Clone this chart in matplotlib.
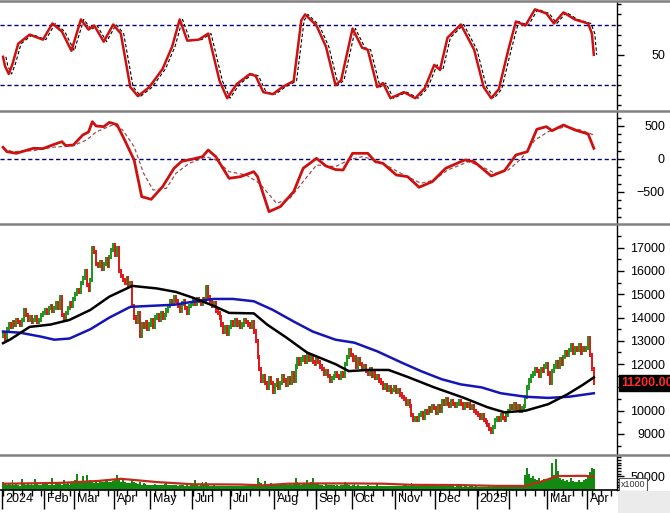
import matplotlib
matplotlib.use('Agg')
import matplotlib.pyplot as plt
import matplotlib.transforms as mtransforms
from matplotlib.lines import Line2D
from matplotlib.patches import Rectangle
from matplotlib.ticker import MultipleLocator, FixedLocator, NullFormatter
import numpy as np

plt.rcParams['font.family'] = ['Liberation Sans', 'DejaVu Sans']

# ---- data ----
month_labels = ['2024', 'Feb', 'Mar', 'Apr', 'May', 'Jun', 'Jul', 'Aug', 'Sep',
                'Oct', 'Nov', 'Dec', '2025', '', 'Mar', 'Apr']

# daily closes, one list per month (trading days)
close_by_month = [
    [13300, 13100, 13500, 13700, 13600, 13800, 13700, 13900, 13800, 13700, 13900,
     14300, 14100, 13900, 14000, 13800, 13900, 14000, 13800, 13900, 14100, 14200],
    [14300, 14200, 14400, 14500, 14300, 14400, 14600, 14400, 14900, 14100, 13900,
     14200, 14400, 14600, 14500, 14800],
    [15000, 15200, 15100, 15500, 15700, 16000, 15400, 15200, 15600, 17000, 16800,
     16300, 16200, 16400, 16100, 16300, 16500, 16200, 16600, 16900, 17100],
    [16700, 17000, 16000, 15800, 15600, 15500, 15700, 15400, 15500, 14500, 14000,
     13800, 14200, 13200, 13700, 13600, 13800, 13500, 13700],
    [13900, 13600, 14000, 14100, 13900, 14200, 14000, 14100, 14300, 14500, 14700,
     14600, 14900, 14700, 14500, 14300, 14600, 14700, 14400, 14200, 14500, 14600],
    [14700, 14600, 14800, 14700, 14600, 14800, 14700, 15300, 14900, 14700, 14500,
     14600, 14300, 14200, 14000, 13700, 13400, 13600, 13300, 13600],
    [13800, 13700, 13900, 13700, 13800, 13600, 13700, 13900, 13800, 13700, 13600,
     13800, 13400, 13000, 12300, 11800, 11300, 11500, 11200, 11000, 11400, 11200, 10800],
    [11100, 11300, 11000, 11200, 11500, 11300, 11100, 11400, 11200, 11600, 11300,
     11900, 12200, 12000, 12200, 12300, 12100, 12400, 12200, 12300, 12100, 12000],
    [12200, 12100, 11900, 11800, 11600, 11700, 11500, 11300, 11400, 11500, 11600,
     11500, 11400, 11600, 11500, 12000, 12300, 12600, 12400],
    [12200, 12300, 11900, 12200, 12000, 11800, 11900, 11700, 11600, 11800, 11500,
     11600, 11400, 11500, 11300, 11200, 11000, 11100, 10900, 11000, 10800, 10900, 11000],
    [10800, 10900, 10700, 10600, 10500, 10300, 10400, 10200, 9800, 9600, 9700,
     9600, 9800, 9900, 9700, 10000, 9900, 10100, 10000, 10200, 10100],
    [9900, 10200, 10000, 10400, 10300, 10500, 10300, 10200, 10400, 10300, 10200,
     10300, 10400, 10300, 10100, 10300, 10200, 10300, 10100, 10200, 10000, 9900],
    [9800, 9700, 9800, 9600, 9500, 9400, 9200, 9100, 9300, 9600, 9700,
     9600, 9800, 9700, 9600, 9800, 10000],
    [10200, 10100, 10300, 10100, 10200, 10000, 10100, 10200, 10600, 11000, 11300,
     11500, 11600, 11800, 11700, 11500, 11800, 11700, 11900, 12000],
    [11600, 11200, 11700, 11900, 12100, 11900, 12200, 12000, 12300, 12500, 12400,
     12600, 12800, 12500, 12700, 12600, 12800, 12500, 12700, 12600, 12700],
    [13100, 12400, 11800, 11200],
]
first_open = 13200

# daily volume (x1000), one list per month
volume_by_month = [
    [28000, 22000, 18000, 25000, 20000, 35000, 18000, 22000, 20000, 16000, 40000,
     22000, 19000, 25000, 18000, 21000, 20000, 42000, 23000, 18000, 20000, 24000],
    [22000, 26000, 20000, 18000, 45000, 20000, 22000, 30000, 24000, 19000, 38000,
     22000, 26000, 20000, 30000, 28000],
    [35000, 60000, 30000, 28000, 50000, 32000, 55000, 30000, 35000, 28000, 26000,
     30000, 25000, 32000, 28000, 30000, 34000, 40000, 30000, 28000, 32000],
    [35000, 55000, 45000, 30000, 38000, 28000, 25000, 27000, 24000, 40000, 30000,
     25000, 22000, 28000, 20000, 24000, 22000, 20000, 18000],
    [20000, 18000, 22000, 19000, 17000, 20000, 18000, 22000, 25000, 20000, 18000,
     19000, 17000, 20000, 16000, 18000, 19000, 17000, 15000, 18000, 16000, 17000],
    [18000, 38000, 20000, 16000, 17000, 28000, 22000, 30000, 18000, 16000, 15000,
     17000, 16000, 14000, 15000, 16000, 13000, 15000, 14000, 16000],
    [15000, 14000, 16000, 13000, 15000, 14000, 16000, 15000, 14000, 13000, 15000,
     14000, 16000, 20000, 45000, 30000, 25000, 18000, 32000, 22000, 20000, 24000, 18000],
    [20000, 22000, 19000, 18000, 24000, 20000, 21000, 19000, 22000, 20000, 25000,
     45000, 28000, 22000, 20000, 24000, 22000, 35000, 25000, 30000, 45000, 24000],
    [22000, 25000, 20000, 18000, 16000, 22000, 19000, 17000, 18000, 20000, 16000,
     18000, 15000, 17000, 20000, 30000, 22000, 18000, 16000],
    [18000, 22000, 16000, 18000, 15000, 14000, 16000, 15000, 17000, 14000, 15000,
     16000, 14000, 26000, 15000, 16000, 14000, 15000, 13000, 15000, 14000, 16000, 15000],
    [14000, 15000, 16000, 14000, 17000, 18000, 16000, 15000, 24000, 18000, 15000,
     14000, 16000, 15000, 13000, 18000, 15000, 14000, 16000, 15000, 14000],
    [13000, 15000, 14000, 22000, 16000, 14000, 15000, 13000, 14000, 15000, 12000,
     14000, 13000, 15000, 12000, 14000, 13000, 12000, 14000, 13000, 12000, 13000],
    [11000, 12000, 10000, 11000, 12000, 10000, 13000, 12000, 11000, 10000, 12000,
     18000, 11000, 10000, 17000, 11000, 16000],
    [12000, 15000, 10000, 12000, 14000, 11000, 13000, 12000, 55000, 80000, 60000,
     45000, 50000, 40000, 35000, 45000, 30000, 38000, 42000, 32000],
    [35000, 45000, 100000, 55000, 115000, 70000, 45000, 38000, 40000, 32000, 35000,
     30000, 45000, 32000, 28000, 30000, 35000, 30000, 28000, 35000, 40000],
    [55000, 65000, 80000, 75000],
]

# moving averages on the price panel (sampled along the chart)
ma_short_days = [0, 4, 14, 25, 35, 46, 56, 68, 81, 91, 100, 111, 119, 132, 139, 149,
                 160, 175, 182, 192, 203, 213, 227, 242, 255, 264, 275, 287, 297, 305, 311]
ma_short = [12900, 13070, 13600, 13700, 13900, 14330, 14900, 15360, 15250, 15100, 14850,
            14500, 14200, 14180, 13700, 13150, 12500, 12000, 11700, 11750, 11750, 11450,
            11000, 10570, 10150, 9930, 10000, 10280, 10700, 11100, 11430]
ma_long_days = [0, 9, 20, 27, 35, 46, 56, 67, 77, 90, 100, 111, 121, 132, 142, 153, 163,
                175, 185, 197, 210, 220, 231, 241, 252, 262, 275, 287, 298, 311]
ma_long = [13400, 13350, 13180, 13050, 13100, 13500, 14000, 14460, 14500, 14550, 14680,
           14800, 14800, 14700, 14330, 13830, 13400, 13050, 12920, 12550, 12060, 11700,
           11350, 11130, 11000, 10750, 10600, 10550, 10600, 10750]

# stochastic oscillator
stoch_days = [0, 1, 3, 5, 8, 14, 21, 26, 31, 36, 41, 45, 48, 53, 58, 62, 67, 71, 77, 84,
              89, 93, 97, 103, 108, 114, 118, 123, 130, 133, 137, 142, 147, 153, 157, 159,
              165, 170, 175, 178, 184, 189, 192, 197, 200, 204, 211, 217, 222, 227, 230,
              234, 241, 248, 253, 257, 261, 266, 270, 275, 280, 286, 290, 295, 301, 308,
              310, 311]
stoch_k = [48, 39, 31, 41, 61, 70, 65, 81, 73, 54, 85, 75, 79, 63, 80, 71, 18, 9, 18, 36,
           58, 85, 64, 65, 71, 24, 7, 21, 31, 29, 13, 11, 18, 24, 84, 90,
           79, 58, 20, 25, 76, 57, 55, 18, 22, 7, 13, 7, 17, 40, 35,
           67, 80, 55, 18, 7, 16, 55, 83, 79, 95, 91, 81, 92, 85, 81,
           71, 50]

# MACD and its signal line
macd_days = [0, 2, 7, 16, 21, 26, 31, 33, 37, 42, 45, 47, 49, 53, 56, 60, 64, 69, 73, 78,
             84, 90, 94, 100, 105, 108, 112, 119, 125, 132, 134, 140, 146, 153, 158, 165,
             170, 175, 179, 184, 192, 196, 200, 207, 213, 219, 226, 233, 243, 248, 257,
             264, 270, 276, 281, 286, 289, 295, 301, 308, 311]
macd = [177, 111, 86, 162, 157, 212, 262, 203, 212, 364, 409, 565, 500, 490, 555, 520,
        288, -15, -571, -611, -419, -141, -36, 0, 35, 136, 35, -293, -268, -192, -268,
        -798, -722, -495, -141, 10, -106, -160, -167, 86, 86, -41, -66, -242, -268,
        -429, -343, -141, -15, -41, -258, -177, 61, 111, 450, 490, 429, 515, 440, 379, 162]
signal_days = [0, 5, 16, 26, 37, 44, 49, 58, 63, 69, 74, 79, 86, 91, 98, 107, 112, 119,
               128, 135, 144, 151, 158, 165, 175, 182, 189, 196, 203, 211, 220, 227, 234,
               245, 252, 259, 266, 273, 280, 287, 296, 304, 311]
signal = [160, 111, 126, 177, 203, 288, 409, 520, 439, 186, -217, -470, -444, -217, -66,
          35, -15, -192, -242, -368, -672, -596, -343, -91, -116, -15, 35, -15, -116,
          -242, -368, -318, -167, -41, -116, -217, -167, 10, 288, 414, 490, 439, 364]

# volume moving average
vol_ma_days = [0, 30, 50, 62, 81, 100, 125, 137, 150, 165, 185, 200, 215, 240, 260, 275,
               283, 292, 306, 311]
vol_ma = [23000, 26000, 33000, 41000, 29000, 21000, 20000, 17000, 23000, 24000, 24000,
          23000, 19000, 18000, 15000, 15000, 30000, 51000, 52000, 49000]

last_price_label = '11200.00'

# ---- derived arrays ----
closes = np.concatenate(close_by_month).astype(float)
volumes = np.concatenate(volume_by_month).astype(float)
days = np.arange(len(closes))
opens = np.concatenate([[first_open], closes[:-1]])
month_start = np.concatenate([[0], np.cumsum([len(m) for m in close_by_month])[:-1]])

# ---- figure ----
W, H = 670, 513
fig = plt.figure(figsize=(W / 100, H / 100), dpi=100)
right = 617 / W


def panel(top_px, bot_px):
    return fig.add_axes([0, 1 - bot_px / H, right, (bot_px - top_px) / H])


ax1 = panel(2, 109)
ax2 = panel(112, 223)
ax3 = panel(225, 454)
ax4 = panel(455, 490)
axes = (ax1, ax2, ax3, ax4)

xlim = (-1.6, 323.2)
for ax in axes:
    ax.set_xlim(*xlim)
    ax.set_facecolor('white')
    for s in ('top', 'bottom', 'left'):
        ax.spines[s].set_visible(False)
    ax.spines['right'].set_color('black')
    ax.spines['right'].set_linewidth(1)
    ax.yaxis.tick_right()
    # labels are right-aligned near the figure's right edge
    ax.tick_params(axis='y', which='major', direction='out', length=5, width=1,
                   labelsize=9, pad=29.5, colors='black')
    ax.tick_params(axis='y', which='minor', direction='out', length=3, width=1)
    ax.tick_params(axis='x', which='both', bottom=False, labelbottom=False)

red = '#cc1111'

# stochastic
ax1.set_ylim(-3.7, 102.3)
ax1.axhline(80, color='#000080', lw=1, ls=(0, (3, 2)))
ax1.axhline(20, color='#000080', lw=1, ls=(0, (3, 2)))
ax1.plot(np.array(stoch_days) + 1.5, stoch_k, color='black', lw=0.8, ls=(0, (3, 2)))
ax1.plot(stoch_days, stoch_k, color=red, lw=1.8)
ax1.yaxis.set_major_locator(FixedLocator([50]))
ax1.yaxis.set_minor_locator(MultipleLocator(10))

# MACD
ax2.set_ylim(-970, 712)
ax2.axhline(0, color='#000080', lw=1, ls=(0, (3, 2)))
ax2.plot(signal_days, signal, color='#a05050', lw=0.9, ls=(0, (3, 2)))
ax2.plot(macd_days, macd, color=red, lw=2)
ax2.yaxis.set_major_locator(FixedLocator([-500, 0, 500]))
ax2.yaxis.set_minor_locator(MultipleLocator(125))

# price
ax3.set_ylim(8141, 17975)
lo = np.minimum(opens, closes)
hi = np.maximum(opens, closes)
up = closes > opens
dn = closes < opens
eq = closes == opens
ax3.vlines(days[up], lo[up] - 90, hi[up] + 90, color='#1c961c', lw=1.4)
ax3.vlines(days[dn], lo[dn] - 90, hi[dn] + 90, color='#e01515', lw=1.4)
ax3.vlines(days[eq], lo[eq] - 110, hi[eq] + 110, color='#946020', lw=1.4)
ax3.plot(ma_long_days, ma_long, color='#1515b5', lw=1.8)
ax3.plot(ma_short_days, ma_short, color='black', lw=1.8)
ax3.yaxis.set_major_locator(MultipleLocator(1000))
ax3.yaxis.set_minor_locator(MultipleLocator(500))
ax3.text(1.0065, closes[-1], last_price_label, transform=ax3.get_yaxis_transform(),
         ha='left', va='center', color='#ff2a2a', fontsize=9, fontweight='bold',
         bbox=dict(boxstyle='square,pad=0.15', fc='black', ec='black'), clip_on=False,
         zorder=10)

# volume
ax4.set_ylim(0, 128000)
ax4.bar(days, volumes, width=1.0, color='#128a12', edgecolor='none')
ax4.plot(vol_ma_days, vol_ma, color='#c02a1a', lw=1.6)
ax4.yaxis.set_major_locator(FixedLocator([50000]))
ax4.yaxis.set_minor_locator(MultipleLocator(10000))
ax4.spines['bottom'].set_visible(True)
ax4.spines['bottom'].set_color('black')
ax4.spines['bottom'].set_linewidth(1.2)
ax4.tick_params(axis='x', which='major', bottom=True, direction='out', length=14, width=1,
                labelbottom=False)
ax4.tick_params(axis='x', which='minor', bottom=True, direction='out', length=4, width=1)
ax4.xaxis.set_major_locator(FixedLocator(month_start - 0.5))
ax4.xaxis.set_minor_locator(MultipleLocator(5))
ax4.xaxis.set_minor_formatter(NullFormatter())
trans = ax4.get_xaxis_transform()
off = mtransforms.ScaledTranslation(2 / 72, -2 / 72, fig.dpi_scale_trans)
for pos, lab in zip(month_start, month_labels):
    ax4.text(pos - 0.5, 0, lab, transform=trans + off, ha='left', va='top', fontsize=9,
             clip_on=False)
ax4.text(1.006, 0.02, 'x1000', transform=ax4.transAxes, ha='left', va='bottom',
         fontsize=6.5, color='#333333',
         bbox=dict(boxstyle='square,pad=0.2', fc='white', ec='#555555', lw=0.8))

for ax in axes:
    for lab in ax.get_yticklabels():
        lab.set_horizontalalignment('right')

# panel separators and the grey corner
for y in (1, 110.5, 224, 454.5):
    fig.add_artist(Line2D([0, 1], [1 - y / H, 1 - y / H], color='#808080', lw=1.8))
fig.add_artist(Rectangle((right + 1 / W, 0), 1 - right, 1 - 491 / H,
                         transform=fig.transFigure, fc='#ebebeb', ec='none'))

fig.savefig('out.png', dpi=100)
